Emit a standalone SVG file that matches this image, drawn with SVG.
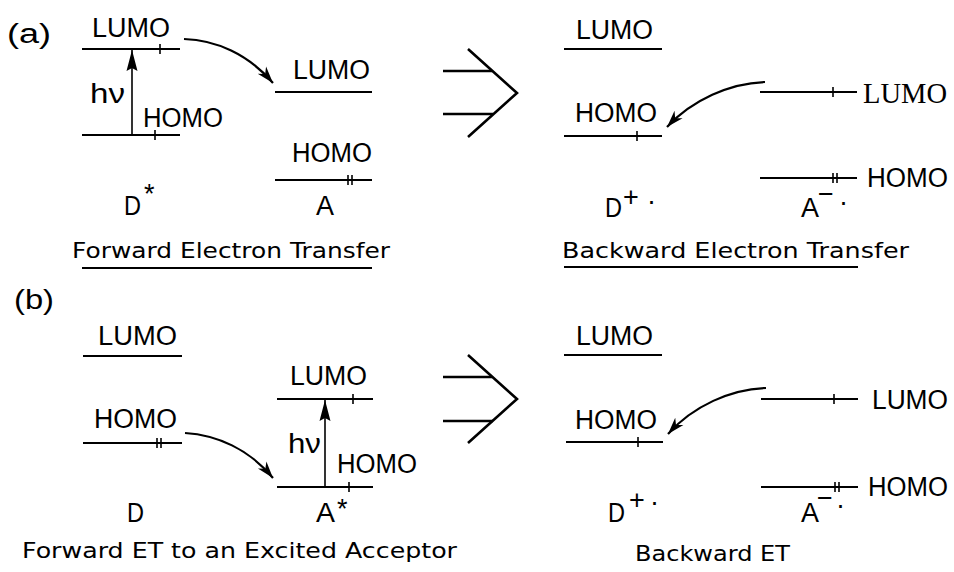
<svg xmlns="http://www.w3.org/2000/svg" width="954" height="572" viewBox="0 0 954 572">
<defs>
<style>
text{font-family:"Liberation Sans",Arial,sans-serif;fill:#000}
.lb{font-size:27px}
.tt{font-family:"DejaVu Sans","Liberation Sans",sans-serif;font-size:21px}
.sr{font-family:"Liberation Serif","Times New Roman",serif;font-size:30px}
.lv{stroke:#000;stroke-width:2;fill:none}
.tk{stroke:#000;stroke-width:1.6;fill:none}
.cv{stroke:#000;stroke-width:2.2;fill:none}
.ch{stroke:#000;stroke-width:2.6;fill:none;stroke-linejoin:miter}
</style>
<marker id="ah" markerWidth="20" markerHeight="14" refX="17" refY="7" orient="auto" markerUnits="userSpaceOnUse">
<path d="M0,1.5 L17,7 L0,12.5 L5,7 Z" fill="#000"/>
</marker>
<marker id="av" markerWidth="24" markerHeight="14" refX="21" refY="7" orient="auto" markerUnits="userSpaceOnUse">
<path d="M0,1.5 L21,7 L0,12.5 L3,7 Z" fill="#000"/>
</marker>
</defs>
<rect width="954" height="572" fill="#fff"/>

<!-- Panel (a) -->
<g id="label-a"><text class="lb" x="7" y="43" textLength="44" lengthAdjust="spacingAndGlyphs">(a)</text></g>

<g id="a-donor-star">
<text class="lb" x="92" y="37" textLength="78" lengthAdjust="spacingAndGlyphs">LUMO</text>
<line class="lv" x1="82" y1="49" x2="180" y2="49"/>
<line class="tk" x1="160" y1="44" x2="160" y2="54"/>
<text class="lb" x="90" y="103" textLength="35" lengthAdjust="spacingAndGlyphs">hν</text>
<text class="lb" x="143" y="127" textLength="80" lengthAdjust="spacingAndGlyphs">HOMO</text>
<line class="lv" x1="82" y1="135" x2="180" y2="135"/>
<line class="tk" x1="155" y1="130" x2="155" y2="140"/>
<text class="lb" x="124" y="215" textLength="17" lengthAdjust="spacingAndGlyphs">D</text>
<text class="lb" x="144" y="203" font-size="28">*</text>
</g>

<g id="a-acceptor">
<text class="lb" x="293" y="79" textLength="77" lengthAdjust="spacingAndGlyphs">LUMO</text>
<line class="lv" x1="275" y1="92" x2="372" y2="92"/>
<text class="lb" x="292" y="162" textLength="80" lengthAdjust="spacingAndGlyphs">HOMO</text>
<line class="lv" x1="275" y1="180" x2="372" y2="180"/>
<line class="tk" x1="348" y1="175" x2="348" y2="185"/>
<line class="tk" x1="352" y1="175" x2="352" y2="185"/>
<text class="lb" x="316" y="215" textLength="18" lengthAdjust="spacingAndGlyphs">A</text>
</g>

<g id="a-title-forward">
<text class="tt" x="72" y="258" textLength="318" lengthAdjust="spacingAndGlyphs">Forward Electron Transfer</text>
<line class="lv" x1="82" y1="268" x2="372" y2="268"/>
</g>

<g id="a-chevron">
<path class="ch" d="M468,49 L517,93 L468,137"/>
<line class="ch" x1="443" y1="71" x2="492" y2="71"/>
<line class="ch" x1="443" y1="114" x2="493" y2="114"/>
</g>

<g id="a-donor-cation">
<text class="lb" x="576" y="39" textLength="77" lengthAdjust="spacingAndGlyphs">LUMO</text>
<line class="lv" x1="564" y1="49" x2="662" y2="49"/>
<text class="lb" x="575" y="122" textLength="82" lengthAdjust="spacingAndGlyphs">HOMO</text>
<line class="lv" x1="564" y1="136" x2="662" y2="136"/>
<line class="tk" x1="637" y1="131" x2="637" y2="141"/>
<text class="lb" x="605" y="217" textLength="17" lengthAdjust="spacingAndGlyphs">D</text>
<text class="lb" x="623" y="206" font-size="32">+</text>
<text class="lb" x="647" y="210">·</text>
</g>

<g id="a-acceptor-anion">
<line class="lv" x1="760" y1="92" x2="857" y2="92"/>
<line class="tk" x1="833" y1="87" x2="833" y2="97"/>
<text class="sr" x="863" y="103" textLength="84" lengthAdjust="spacingAndGlyphs">LUMO</text>
<line class="lv" x1="760" y1="178" x2="857" y2="178"/>
<line class="tk" x1="833" y1="173" x2="833" y2="183"/>
<line class="tk" x1="837" y1="173" x2="837" y2="183"/>
<text class="lb" x="867" y="187" textLength="81" lengthAdjust="spacingAndGlyphs">HOMO</text>
<text class="lb" x="801" y="217" textLength="18" lengthAdjust="spacingAndGlyphs">A</text>
<text class="lb" x="818" y="203" font-size="28">−</text>
<text class="lb" x="839" y="211">·</text>
</g>

<g id="a-title-backward">
<text class="tt" x="562" y="258" textLength="347" lengthAdjust="spacingAndGlyphs">Backward Electron Transfer</text>
<line class="lv" x1="564" y1="267" x2="858" y2="267"/>
</g>

<!-- Panel (b) -->
<g id="label-b"><text class="lb" x="14" y="309" textLength="40" lengthAdjust="spacingAndGlyphs">(b)</text></g>

<g id="b-donor">
<text class="lb" x="98" y="345" textLength="79" lengthAdjust="spacingAndGlyphs">LUMO</text>
<line class="lv" x1="83" y1="356" x2="182" y2="356"/>
<text class="lb" x="94" y="428" textLength="83" lengthAdjust="spacingAndGlyphs">HOMO</text>
<line class="lv" x1="83" y1="443" x2="182" y2="443"/>
<line class="tk" x1="157" y1="438" x2="157" y2="448"/>
<line class="tk" x1="161" y1="438" x2="161" y2="448"/>
<text class="lb" x="127" y="522" textLength="17" lengthAdjust="spacingAndGlyphs">D</text>
</g>

<g id="b-acceptor-star">
<text class="lb" x="290" y="385" textLength="77" lengthAdjust="spacingAndGlyphs">LUMO</text>
<line class="lv" x1="277" y1="399" x2="373" y2="399"/>
<line class="tk" x1="353" y1="394" x2="353" y2="404"/>
<text class="lb" x="288" y="453" textLength="33" lengthAdjust="spacingAndGlyphs">hν</text>
<text class="lb" x="337" y="473" textLength="80" lengthAdjust="spacingAndGlyphs">HOMO</text>
<line class="lv" x1="277" y1="487" x2="373" y2="487"/>
<line class="tk" x1="349" y1="482" x2="349" y2="492"/>
<text class="lb" x="316" y="522" textLength="19" lengthAdjust="spacingAndGlyphs">A</text>
<text class="lb" x="337" y="518" font-size="28">*</text>
</g>

<g id="b-title-forward">
<text class="tt" x="22" y="558" textLength="435" lengthAdjust="spacingAndGlyphs">Forward ET to an Excited Acceptor</text>
</g>

<g id="b-chevron">
<path class="ch" d="M468,355 L517,399 L468,443"/>
<line class="ch" x1="443" y1="377" x2="492" y2="377"/>
<line class="ch" x1="443" y1="421" x2="493" y2="421"/>
</g>

<g id="b-donor-cation">
<text class="lb" x="576" y="345" textLength="77" lengthAdjust="spacingAndGlyphs">LUMO</text>
<line class="lv" x1="564" y1="355" x2="662" y2="355"/>
<text class="lb" x="575" y="429" textLength="82" lengthAdjust="spacingAndGlyphs">HOMO</text>
<line class="lv" x1="566" y1="442" x2="663" y2="442"/>
<line class="tk" x1="638" y1="437" x2="638" y2="447"/>
<text class="lb" x="608" y="522" textLength="17" lengthAdjust="spacingAndGlyphs">D</text>
<text class="lb" x="629" y="509" font-size="32">+</text>
<text class="lb" x="650" y="511">·</text>
</g>

<g id="b-acceptor-anion">
<line class="lv" x1="761" y1="399" x2="858" y2="399"/>
<line class="tk" x1="834" y1="394" x2="834" y2="404"/>
<text class="lb" x="872" y="409" textLength="76" lengthAdjust="spacingAndGlyphs">LUMO</text>
<line class="lv" x1="761" y1="487" x2="858" y2="487"/>
<line class="tk" x1="835" y1="482" x2="835" y2="492"/>
<line class="tk" x1="839" y1="482" x2="839" y2="492"/>
<text class="lb" x="868" y="496" textLength="80" lengthAdjust="spacingAndGlyphs">HOMO</text>
<text class="lb" x="801" y="522" textLength="18" lengthAdjust="spacingAndGlyphs">A</text>
<text class="lb" x="817" y="507" font-size="28">−</text>
<text class="lb" x="836" y="514">·</text>
</g>

<g id="b-title-backward">
<text class="tt" x="635" y="561" textLength="155" lengthAdjust="spacingAndGlyphs">Backward ET</text>
</g>

<!-- Connectors -->
<g id="connectors">
<line class="tk" x1="132" y1="135" x2="132" y2="50" marker-end="url(#av)"/>
<path class="cv" d="M184,39 C216,40 248,54 273,83" marker-end="url(#ah)"/>
<path class="cv" d="M765,82 C730,83 692,100 667,127" marker-end="url(#ah)"/>
<line class="tk" x1="325" y1="487" x2="325" y2="400" marker-end="url(#av)"/>
<path class="cv" d="M185,433 C217,435 249,449 273,478" marker-end="url(#ah)"/>
<path class="cv" d="M766,388 C731,389 693,406 668,434" marker-end="url(#ah)"/>
</g>
</svg>
